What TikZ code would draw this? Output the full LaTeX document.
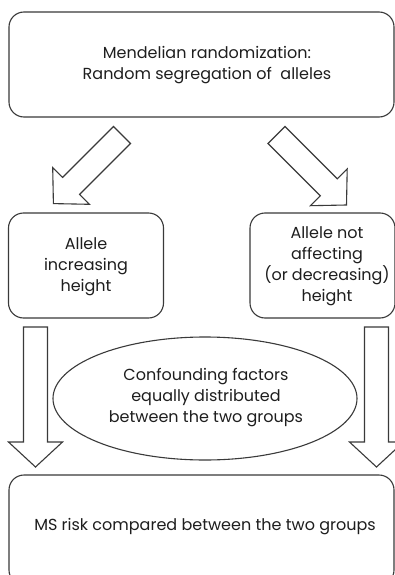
\documentclass[tikz,border=0pt]{standalone}
\usepackage{fontspec}
\setmainfont{Poppins}
\usetikzlibrary{shapes.geometric}
\definecolor{ln}{HTML}{3A3A3A}
\definecolor{tx}{HTML}{1E1E1E}
\begin{document}
\begin{tikzpicture}[x=1pt,y=-1pt,
  box/.style={draw=ln, line width=1.1pt, rounded corners=15pt, inner sep=0pt},
  txt/.style={text=tx, align=center, font=\fontsize{16}{21}\selectfont, inner sep=0pt},
  blockarrow/.style={draw=ln, line width=1.1pt, line join=miter, fill=white},
  oval/.style={draw=ln, line width=1.1pt, ellipse, inner sep=0pt}]
\useasboundingbox (0,0) rectangle (395,575);
\clip (0,0) rectangle (395,575);
\fill[white] (0,0) rectangle (395,575);

% boxes
\node[box, minimum width=385pt, minimum height=105pt] (top) at (201.5,64.5) {};
\node[box, minimum width=155pt, minimum height=105pt] (left) at (86,265.5) {};
\node[box, minimum width=145pt, minimum height=105pt] (right) at (322.5,265.5) {};
\node[box, minimum width=385pt, minimum height=110pt] (bottom) at (201.5,530) {};
\node[oval, minimum width=304pt, minimum height=123pt] (conf) at (205,398.5) {};

% texts
\node[txt] (ttop) at (207,65.5) {Mendelian randomization:\\Random segregation of\ \ alleles};
\node[txt] (tleft) at (86,267) {Allele\\increasing\\height};
\node[txt] (tright) at (327,266.5) {Allele not\\affecting\\(or decreasing)\\height};
\node[txt] (tconf) at (206,398) {Confounding factors\\equally distributed\\between the two groups};
\node[txt] (tbottom) at (205,527) {MS risk compared between the two groups};

% diagonal block arrows
\draw[blockarrow] (113.5,126.5) -- (130.5,143.5) -- (79.6,194.4) -- (89.5,204.3)
  -- (53.4,203.6) -- (52.7,167.5) -- (62.6,177.4) -- cycle;
\draw[blockarrow] (285,126.5) -- (268,143.5) -- (320.3,195.8) -- (310.4,205.7)
  -- (346.5,205) -- (347.2,168.9) -- (337.3,178.8) -- cycle;

% vertical block arrows
\draw[blockarrow] (23.5,327) -- (47.5,327) -- (47.5,442) -- (62.5,442) -- (35.5,467)
  -- (8.5,442) -- (23.5,442) -- cycle;
\draw[blockarrow] (364.5,327) -- (388.5,327) -- (388.5,442) -- (403.5,442) -- (376.5,467)
  -- (349.5,442) -- (364.5,442) -- cycle;
\end{tikzpicture}
\end{document}
